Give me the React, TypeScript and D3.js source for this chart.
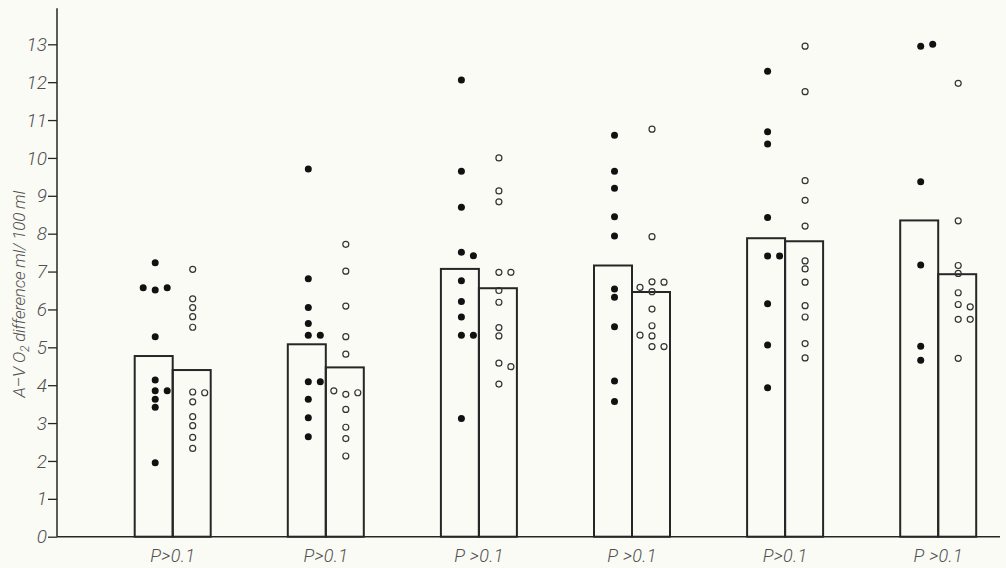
import React, { useRef, useEffect } from 'react';
import * as d3 from 'd3';

// group labels under the x axis
const groupLabels = ['P>0.1', 'P>0.1', 'P >0.1', 'P >0.1', 'P>0.1', 'P >0.1'];

// mean values (bar heights), ml/100 ml
const solidMeans = [4.77, 5.08, 7.07, 7.16, 7.88, 8.35];
const openMeans = [4.4, 4.47, 6.56, 6.46, 7.8, 6.93];

// individual values: [value, column] (column -1 left, 0 middle, 1 right)
const solidDots = [
  [[7.23, 0], [6.57, -1], [6.51, 0], [6.57, 1], [5.28, 0], [4.14, 0], [3.85, 0], [3.85, 1], [3.63, 0], [3.42, 0], [1.95, 0]],
  [[9.71, 0], [6.81, 0], [6.05, 0], [5.63, 0], [5.32, 0], [5.32, 1], [4.09, 0], [4.09, 1], [3.63, 0], [3.14, 0], [2.64, 0]],
  [[12.06, 0], [9.65, 0], [8.7, 0], [7.51, 0], [7.42, 1], [6.76, 0], [6.21, 0], [5.8, 0], [5.32, 0], [5.32, 1], [3.12, 0]],
  [[10.6, 0], [9.65, 0], [9.2, 0], [8.45, 0], [7.94, 0], [6.54, 0], [6.32, 0], [5.54, 0], [4.11, 0], [3.57, 0]],
  [[12.29, 0], [10.69, 0], [10.37, 0], [8.43, 0], [7.41, 0], [7.41, 1], [6.15, 0], [5.06, 0], [3.93, 0]],
  [[12.95, 0], [13.0, 1], [9.37, 0], [7.17, 0], [5.03, 0], [4.66, 0]]
];

const openDots = [
  [[7.06, 0], [6.28, 0], [6.05, 0], [5.81, 0], [5.53, 0], [3.82, 0], [3.8, 1], [3.56, 0], [3.17, 0], [2.93, 0], [2.62, 0], [2.33, 0]],
  [[7.72, 0], [7.01, 0], [6.09, 0], [5.28, 0], [4.82, 0], [3.85, -1], [3.76, 0], [3.8, 1], [3.36, 0], [2.89, 0], [2.59, 0], [2.13, 0]],
  [[10.0, 0], [9.13, 0], [8.84, 0], [6.98, 0], [6.98, 1], [6.5, 0], [6.19, 0], [5.52, 0], [5.3, 0], [4.58, 0], [4.49, 1], [4.03, 0]],
  [[10.76, 0], [7.92, 0], [6.58, -1], [6.73, 0], [6.72, 1], [6.47, 0], [6.01, 0], [5.57, 0], [5.32, -1], [5.3, 0], [5.02, 0], [5.02, 1]],
  [[12.95, 0], [11.75, 0], [9.4, 0], [8.88, 0], [8.2, 0], [7.28, 0], [7.07, 0], [6.72, 0], [6.1, 0], [5.8, 0], [5.1, 0], [4.72, 0]],
  [[11.97, 0], [8.34, 0], [7.16, 0], [6.95, 0], [6.44, 0], [6.13, 0], [6.07, 1], [5.74, 0], [5.74, 1], [4.71, 0]]
];

const yTicks = d3.range(0, 14);
const yMax = 13;
const axisTop = 13.95;

const W = 1006;
const H = 568;
const INK = '#262626';
const TEXT = '#505050';
const FONT = 'Roboto, "DejaVu Sans", sans-serif';

const App = () => {
  const ref = useRef<SVGSVGElement>(null);

  useEffect(() => {
    const root = d3.select(ref.current);
    root.selectAll('*').remove();

    root.append('rect').attr('width', W).attr('height', H).attr('fill', '#fbfbf6');

    const axisX = 57;
    const y = d3.scaleLinear().domain([0, yMax]).range([536.7, 44.3]);
    const x = d3.scalePoint<number>()
      .domain(d3.range(groupLabels.length))
      .range([172.7, 938.2]);
    const sub = d3.scaleBand<string>().domain(['solid', 'open']).range([-38, 38]).padding(0);
    const col = d3.scaleLinear().domain([-1, 1]).range([-12, 12]);

    const svg = root.append('g');

    // y axis
    const yAxis = svg.append('g')
      .attr('transform', `translate(${axisX},0)`)
      .call(d3.axisLeft(y).tickValues(yTicks).tickSize(9).tickSizeOuter(0).tickPadding(1));
    yAxis.select('.domain').remove();
    yAxis.selectAll('line').attr('stroke', INK).attr('stroke-width', 1.3);
    yAxis.selectAll('text')
      .attr('fill', TEXT)
      .style('font-family', FONT)
      .style('font-style', 'italic')
      .style('font-weight', 300)
      .style('font-size', '19px');

    svg.append('line')
      .attr('x1', axisX).attr('x2', axisX)
      .attr('y1', y(0)).attr('y2', y(axisTop))
      .attr('stroke', INK).attr('stroke-width', 1.5);

    // x baseline
    svg.append('line')
      .attr('x1', axisX).attr('x2', 1000)
      .attr('y1', y(0)).attr('y2', y(0))
      .attr('stroke', INK).attr('stroke-width', 1.5);

    // bars
    const groups = svg.selectAll('g.grp')
      .data(groupLabels.map((label, i) => ({ label, i })))
      .enter().append('g')
      .attr('class', 'grp')
      .attr('transform', d => `translate(${x(d.i)},0)`);

    groups.append('rect')
      .attr('x', sub('solid'))
      .attr('width', sub.bandwidth())
      .attr('y', d => y(solidMeans[d.i]))
      .attr('height', d => y(0) - y(solidMeans[d.i]))
      .attr('fill', 'none')
      .attr('stroke', INK)
      .attr('stroke-width', 2);

    groups.append('rect')
      .attr('x', sub('open'))
      .attr('width', sub.bandwidth())
      .attr('y', d => y(openMeans[d.i]))
      .attr('height', d => y(0) - y(openMeans[d.i]))
      .attr('fill', 'none')
      .attr('stroke', INK)
      .attr('stroke-width', 2);

    const solidCx = (sub('solid') as number) + sub.bandwidth() / 2 + 1.5;
    const openCx = (sub('open') as number) + sub.bandwidth() / 2 + 1;

    groups.selectAll('circle.solid')
      .data(d => solidDots[d.i])
      .enter().append('circle')
      .attr('class', 'solid')
      .attr('cx', d => solidCx + col(d[1]))
      .attr('cy', d => y(d[0]))
      .attr('r', 3.5)
      .attr('fill', '#111');

    groups.selectAll('circle.open')
      .data(d => openDots[d.i])
      .enter().append('circle')
      .attr('class', 'open')
      .attr('cx', d => openCx + col(d[1]))
      .attr('cy', d => y(d[0]))
      .attr('r', 3)
      .attr('fill', 'none')
      .attr('stroke', '#333')
      .attr('stroke-width', 1.2);

    groups.append('text')
      .attr('x', 0)
      .attr('y', 562)
      .attr('text-anchor', 'middle')
      .attr('fill', TEXT)
      .style('font-family', FONT)
      .style('font-style', 'italic')
      .style('font-weight', 300)
      .style('font-size', '18px')
      .style('letter-spacing', '0.3px')
      .text(d => d.label);

    // y axis title
    const title = svg.append('text')
      .attr('transform', `translate(25,${y(6.4)}) rotate(-90)`)
      .attr('text-anchor', 'middle')
      .attr('fill', TEXT)
      .style('font-family', FONT)
      .style('font-style', 'italic')
      .style('font-weight', 300)
      .style('font-size', '17px')
      .style('letter-spacing', '-0.2px');
    title.append('tspan').text('A–V O');
    title.append('tspan').attr('dy', 4).style('font-size', '12px').text('2');
    title.append('tspan').attr('dy', -4).text(' difference ml/ 100 ml');

    return () => {
      root.selectAll('*').remove();
    };
  }, []);

  return (
    <svg ref={ref} width={W} height={H} style={{ position: 'absolute', left: 0, top: 0, display: 'block' }}></svg>
  );
};

export default App;
